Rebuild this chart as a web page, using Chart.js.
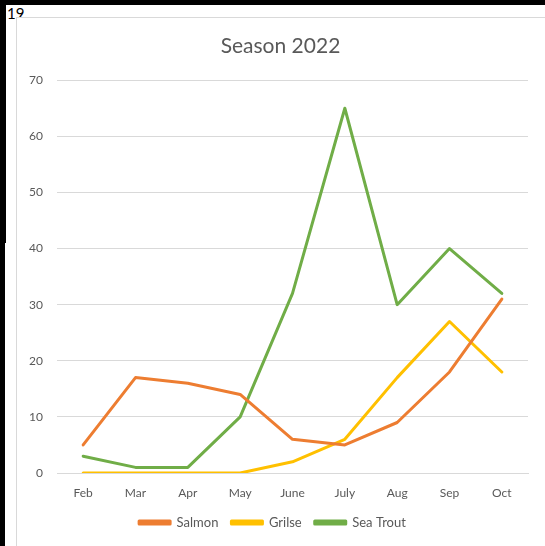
<!DOCTYPE html>
<html>
<head>
<meta charset="utf-8">
<script src="https://cdn.jsdelivr.net/npm/chart.js@4.4.1/dist/chart.umd.min.js"></script>
<style>
    body { margin: 0; width: 545px; height: 546px; overflow: hidden; background: #fff; position: relative; font-family: Lato, sans-serif; }
    .bar { position: absolute; background: #000; }
    #page-num { position: absolute; left: 7px; top: 4px; font-size: 15px; color: #000; }
    #chart-box { position: absolute; left: 16px; top: 17px; width: 528px; height: 528px; background: #fff;
                 border-left: 1px solid #d9d9d9; border-top: 1px solid #d9d9d9; }
</style>
</head>
<body>
<div class="bar" style="left:0;top:0;width:545px;height:5px"></div>
<div class="bar" style="left:0;top:0;width:6px;height:243px"></div>
<div class="bar" style="left:0;top:243px;width:5px;height:303px"></div>
<div id="page-num">19</div>
<div id="chart-box"><canvas id="season-chart" width="528" height="528"></canvas></div>
<script>
// Chart data
const months = ['Feb', 'Mar', 'Apr', 'May', 'June', 'July', 'Aug', 'Sep', 'Oct'];
const salmon = [5, 17, 16, 14, 6, 5, 9, 18, 31];
const grilse = [0, 0, 0, 0, 2, 6, 17, 27, 18];
const seaTrout = [3, 1, 1, 10, 32, 65, 30, 40, 32];
const yTicks = [0, 10, 20, 30, 40, 50, 60, 70];

const textColor = '#595959';
const gridColor = '#d9d9d9';

function makeSeries(label, data, color) {
    return {
        label: label,
        data: data,
        borderColor: color,
        backgroundColor: color,
        borderWidth: 3,
        pointRadius: 0,
        tension: 0,
        borderCapStyle: 'round',
        borderJoinStyle: 'round'
    };
}

// the title sits centred on the whole box, not on the padded area
const titleShift = {
    id: 'titleShift',
    afterLayout(chart) {
        chart.titleBlock.left += 8;
        chart.titleBlock.right += 8;
    }
};

const ctx = document.getElementById('season-chart').getContext('2d');
new Chart(ctx, {
    type: 'line',
    data: {
        labels: months,
        datasets: [
            makeSeries('Salmon', salmon, '#ED7D31'),
            makeSeries('Grilse', grilse, '#FFC000'),
            makeSeries('Sea Trout', seaTrout, '#70AD47')
        ]
    },
    options: {
        responsive: false,
        animation: false,
        layout: { padding: { left: 0, right: 17, top: 0, bottom: 7 } },
        scales: {
            x: {
                offset: true,
                afterFit: function(scale) { scale.height = 30; },
                grid: { display: false, drawTicks: false },
                border: { display: true, color: gridColor, width: 1 },
                ticks: { color: textColor, font: { family: 'Lato', size: 12 }, padding: 13, maxRotation: 0 }
            },
            y: {
                min: 0,
                max: 70,
                afterBuildTicks: function(scale) {
                    scale.ticks = yTicks.map(v => ({ value: v }));
                },
                afterFit: function(scale) { scale.width = 40; },
                grid: { color: gridColor, lineWidth: 1, drawTicks: false },
                border: { display: false },
                ticks: { color: textColor, font: { family: 'Lato', size: 12 }, padding: 14 }
            }
        },
        plugins: {
            title: {
                display: true,
                text: 'Season 2022',
                color: textColor,
                font: { family: 'Lato', size: 21, weight: 'normal' },
                padding: { top: 16, bottom: 21 }
            },
            legend: {
                position: 'bottom',
                labels: {
                    color: textColor,
                    font: { family: 'Lato', size: 13 },
                    boxWidth: 31,
                    boxHeight: 3,
                    padding: 13
                }
            },
            tooltip: { enabled: false }
        }
    },
    plugins: [titleShift]
});
</script>
</body>
</html>
